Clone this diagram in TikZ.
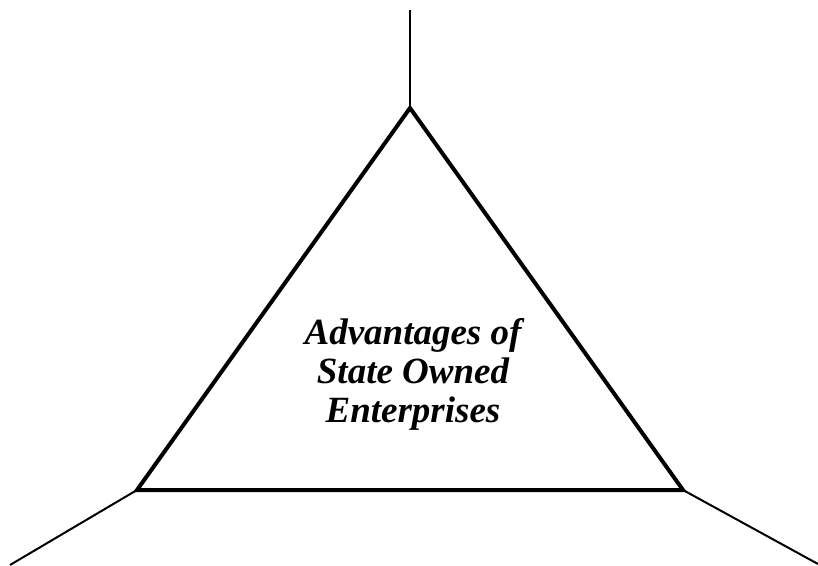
\documentclass[tikz,border=0pt]{standalone}
\usepackage{fontspec}
\setmainfont{Liberation Serif}
\usetikzlibrary{calc}

\begin{document}
\begin{tikzpicture}[x=1pt, y=-1pt]
  \useasboundingbox (0, 0) rectangle (818, 565);
  \coordinate (apex) at (410, 108);
  \coordinate (left) at (137, 490);
  \coordinate (right) at (683, 490);
  \coordinate (topend) at (410, 10);
  \coordinate (leftend) at (10, 565);
  \coordinate (rightend) at (818, 564);

  \draw[line width=4pt, line join=miter] (apex) -- (right) -- (left) -- cycle;
  \draw[line width=2pt] (apex) -- (topend);
  \draw[line width=2pt] (left) -- (leftend);
  \draw[line width=2pt] (right) -- (rightend);

  \node[align=center, font=\fontsize{37}{39}\selectfont\bfseries\itshape] (title) at (413, 374)
    {Advantages of\\State Owned\\Enterprises};
\end{tikzpicture}
\end{document}
